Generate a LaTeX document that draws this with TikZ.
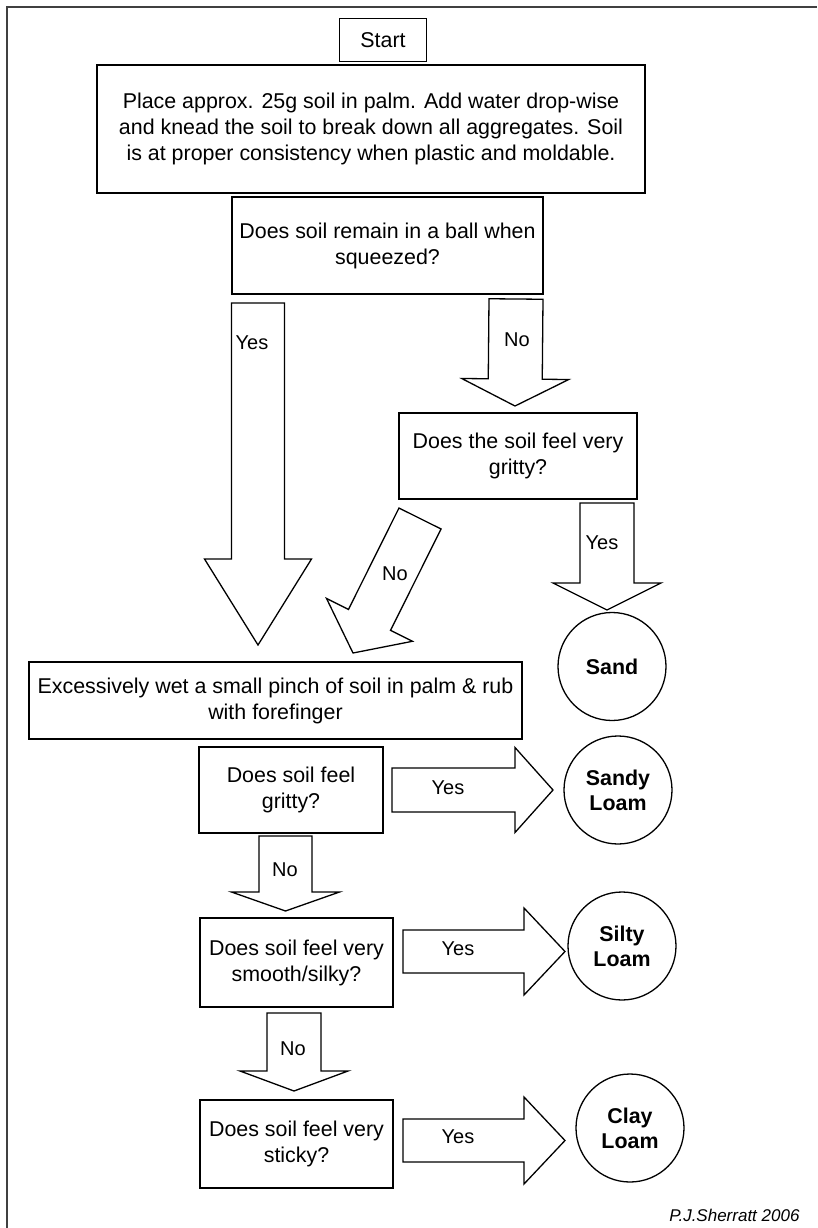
\documentclass[tikz,border=0pt]{standalone}
\usepackage{fontspec}
\setmainfont{Liberation Sans}
\usetikzlibrary{calc}

% block arrow: from, tip, half shaft, half head, head length
\newcommand{\fatarrow}[5]{%
  \path ($(#2)!#5!(#1)$) coordinate (fah);
  \draw[fatline] ($(#1)!#3!90:(#2)$) -- ($(fah)!#3!90:(#2)$) -- ($(fah)!#4!90:(#2)$) -- (#2)
    -- ($(fah)!#4!-90:(#2)$) -- ($(fah)!#3!-90:(#2)$) -- ($(#1)!#3!-90:(#2)$) -- cycle;}

\begin{document}
\begin{tikzpicture}[x=1pt, y=-1pt, font=\fontsize{21.4}{26}\selectfont,
    box/.style={draw, line width=1.3pt, align=center, inner sep=0pt},
    soil/.style={draw, circle, line width=1.3pt, minimum size=108pt, inner sep=0pt, align=center,
      font=\fontsize{21.4}{25}\selectfont\bfseries},
    fatline/.style={line width=1.3pt, line join=miter, fill=white},
    lbl/.style={font=\fontsize{20}{24}\selectfont}]
    \useasboundingbox (0,0) rectangle (817,1228);
    \draw[line width=1.8pt, black!75] (7,1228) -- (7,7) -- (817,7);

    % steps and questions
    \node[box, minimum width=87pt, minimum height=43pt] (start) at (383,40) {Start};
    \node[box, minimum width=548pt, minimum height=128pt] (place) at (371,129)
        {Place approx. 25g soil in palm. Add water drop-wise\\
         and knead the soil to break down all aggregates. Soil\\
         is at proper consistency when plastic and moldable.};
    \node[box, minimum width=311pt, minimum height=97pt] (ball) at (387.5,245.5)
        {Does soil remain in a ball when\\ squeezed?};
    \node[box, minimum width=238pt, minimum height=86pt] (gritty) at (518,456)
        {Does the soil feel very\\ gritty?};
    \node[box, minimum width=493pt, minimum height=77pt] (wet) at (275.5,700.5)
        {Excessively wet a small pinch of soil in palm \& rub\\ with forefinger};
    \node[box, minimum width=184pt, minimum height=86pt] (feelgritty) at (291,790)
        {Does soil feel\\ gritty?};
    \node[box, minimum width=193pt, minimum height=89pt] (smooth) at (296.5,962.5)
        {Does soil feel very\\ smooth/silky?};
    \node[box, minimum width=193pt, minimum height=88pt] (sticky) at (296.5,1144)
        {Does soil feel very\\ sticky?};

    % results
    \node[soil] (sand) at (612,666.5) {Sand};
    \node[soil] (sandy) at (618,790) {Sandy\\ Loam};
    \node[soil] (silty) at (622,946) {Silty\\ Loam};
    \node[soil] (clay) at (630,1128) {Clay\\ Loam};

    % arrow ends
    \coordinate (ballyes) at (258,303);   \coordinate (wettop) at (258,645);
    \coordinate (ballno) at (516,299);    \coordinate (grittytop) at (515,406);
    \coordinate (grittyyes) at (607,503); \coordinate (sandtop) at (607,610);
    \coordinate (grittyno) at (420,518.5); \coordinate (wetright) at (353,653);
    \coordinate (fgyes) at (392,790);     \coordinate (sandyleft) at (553,790);
    \coordinate (fgno) at (285.5,836);    \coordinate (smoothtop) at (285.5,911);
    \coordinate (smoothyes) at (403,951.5); \coordinate (siltyleft) at (565,951.5);
    \coordinate (smoothno) at (294,1013); \coordinate (stickytop) at (294,1091);
    \coordinate (stickyyes) at (403,1140.5); \coordinate (clayleft) at (565,1140.5);

    \fatarrow{ballyes}{wettop}{26.5pt}{53.5pt}{86pt}
    \fatarrow{ballno}{grittytop}{27pt}{53.5pt}{27pt}
    \fatarrow{grittyyes}{sandtop}{27pt}{54pt}{27pt}
    \fatarrow{grittyno}{wetright}{23.5pt}{48pt}{37pt}
    \fatarrow{fgyes}{sandyleft}{22pt}{42.5pt}{38pt}
    \fatarrow{fgno}{smoothtop}{26.5pt}{54pt}{19pt}
    \fatarrow{smoothyes}{siltyleft}{21.5pt}{43.5pt}{41pt}
    \fatarrow{smoothno}{stickytop}{27pt}{54pt}{20pt}
    \fatarrow{stickyyes}{clayleft}{21.5pt}{43.5pt}{41pt}

    % answers
    \node[lbl] (yes1) at (252,343) {Yes};
    \node[lbl] (no1) at (517,340) {No};
    \node[lbl] (no2) at (395,574) {No};
    \node[lbl] (yes2) at (602,543) {Yes};
    \node[lbl] (yes3) at (448,788) {Yes};
    \node[lbl] (no3) at (285,870) {No};
    \node[lbl] (yes4) at (458,949) {Yes};
    \node[lbl] (no4) at (293,1049) {No};
    \node[lbl] (yes5) at (458,1137) {Yes};

    \node[anchor=east, font=\fontsize{17}{20}\selectfont\itshape] (author) at (803,1215) {P.J.Sherratt 2006};
\end{tikzpicture}
\end{document}
